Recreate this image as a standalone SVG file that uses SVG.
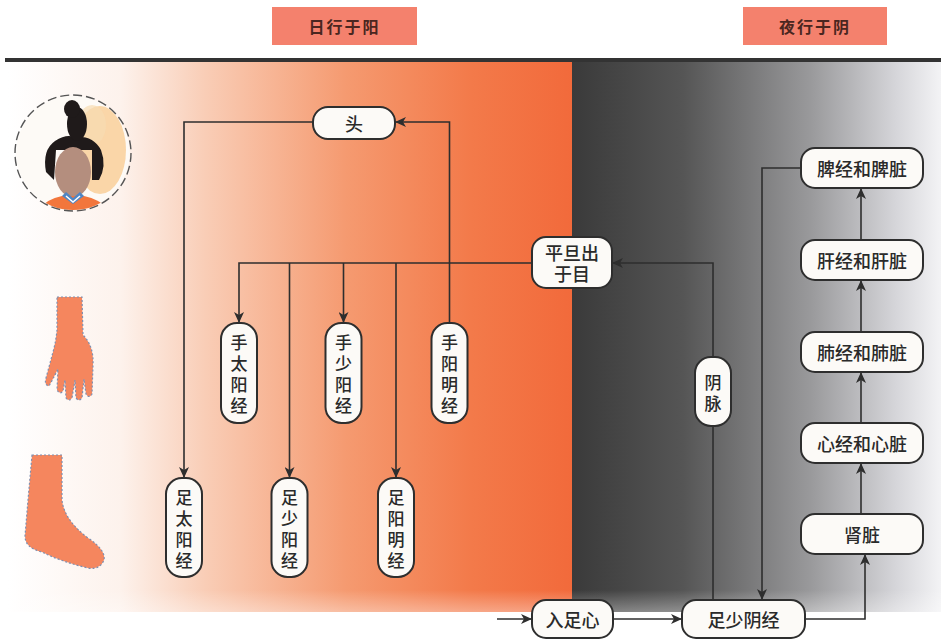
<svg xmlns="http://www.w3.org/2000/svg" width="941" height="640" viewBox="0 0 941 640">
  <defs>
    <style>
      .box rect { fill: #fcfaf7; stroke: #2e2e2e; stroke-width: 2; }
      .box text { font-family: "Noto Sans CJK SC", "Noto Sans", sans-serif; font-size: 18px; font-weight: 500; fill: #2a2a2a; text-anchor: middle; dominant-baseline: central; }
      .box text.v { font-size: 17px; }
      .hdr rect { fill: #f4816d; }
      .hdr text { font-family: "Noto Sans CJK SC", serif; font-size: 16px; font-weight: 700; fill: #4a2620; text-anchor: middle; dominant-baseline: central; letter-spacing: 2px; }
      .link { fill: none; stroke: #2e2e2e; stroke-width: 1.6; }
      .arrow { marker-end: url(#tip); }
      .skin { fill: #f5865e; stroke: #7f8fb0; stroke-width: 1.2; stroke-dasharray: 2 2; }
    </style>
    <marker id="tip" markerUnits="userSpaceOnUse" markerWidth="12" markerHeight="10" refX="11" refY="5" orient="auto">
      <path d="M0,0 L11,5 L0,10 L3,5 Z" fill="#2e2e2e"/>
    </marker>
    <linearGradient id="day" x1="8" y1="0" x2="572" y2="0" gradientUnits="userSpaceOnUse">
      <stop offset="0" stop-color="#ffffff"/>
      <stop offset="0.2" stop-color="#fdf2ec"/>
      <stop offset="0.35" stop-color="#f9cdb6"/>
      <stop offset="0.6" stop-color="#f59a70"/>
      <stop offset="0.82" stop-color="#f37a4a"/>
      <stop offset="1" stop-color="#f26a3b"/>
    </linearGradient>
    <linearGradient id="night" x1="572" y1="0" x2="941" y2="0" gradientUnits="userSpaceOnUse">
      <stop offset="0" stop-color="#3a3a3a"/>
      <stop offset="0.3" stop-color="#555555"/>
      <stop offset="0.65" stop-color="#9a9a9c"/>
      <stop offset="0.88" stop-color="#d6d6da"/>
      <stop offset="1" stop-color="#f3f3f5"/>
    </linearGradient>
    <linearGradient id="fadeDown" x1="0" y1="590" x2="0" y2="612" gradientUnits="userSpaceOnUse">
      <stop offset="0" stop-color="#ffffff" stop-opacity="0"/>
      <stop offset="1" stop-color="#ffffff" stop-opacity="0.35"/>
    </linearGradient>
    <clipPath id="faceClip">
      <circle cx="73" cy="153" r="57"/>
    </clipPath>
  </defs>

  <!-- page -->
  <rect x="0" y="0" width="941" height="640" fill="#ffffff"/>

  <!-- day / night bands -->
  <rect x="8" y="62" width="564" height="550" fill="url(#day)"/>
  <rect x="572" y="62" width="369" height="550" fill="url(#night)"/>
  <rect x="8" y="590" width="933" height="22" fill="url(#fadeDown)"/>

  <!-- header rule -->
  <line x1="5" y1="60" x2="941" y2="60" stroke="#333333" stroke-width="4"/>

  <!-- header labels -->
  <g id="label-day" class="hdr">
    <rect x="272" y="7" width="145" height="38"/>
    <text x="344.5" y="26">日行于阳</text>
  </g>
  <g id="label-night" class="hdr">
    <rect x="743" y="7" width="144" height="38"/>
    <text x="815" y="26">夜行于阴</text>
  </g>

  <!-- figure: head portrait -->
  <g id="icon-head">
    <g clip-path="url(#faceClip)">
      <circle cx="73" cy="153" r="57" fill="#fdfaf6"/>
      <ellipse cx="100" cy="150" rx="26" ry="44" fill="#f8c98e" opacity="0.75"/>
      <ellipse cx="92" cy="125" rx="14" ry="20" fill="#f6dcb2" opacity="0.7"/>
      <path d="M46,172 Q42,150 55,141 Q66,134 74,137 Q93,135 101,150 Q107,166 99,180 L92,180 L92,150 L56,150 L54,180 Z" fill="#1f1a1a"/>
      <ellipse cx="77" cy="124" rx="10" ry="17" fill="#1f1a1a"/>
      <ellipse cx="72" cy="109" rx="8" ry="9" fill="#1f1a1a"/>
      <ellipse cx="73" cy="172" rx="18" ry="25" fill="#b48e7e"/>
      <path d="M36,215 Q42,200 62,196 L84,196 Q104,200 112,215 Z" fill="#f2763c"/>
      <path d="M62,196 L73,204 L84,196 L80,192 L73,198 L66,192 Z" fill="#4f86c4"/>
      <path d="M66,196 L73,202 L80,196" fill="none" stroke="#ffffff" stroke-width="1.5"/>
    </g>
    <circle cx="73" cy="153" r="58" fill="none" stroke="#555555" stroke-width="1.4" stroke-dasharray="9 4"/>
  </g>

  <!-- figure: hand -->
  <g id="icon-hand">
    <path class="skin" d="M57,297 L82,297 L83,335 Q94,346 93,365 L92,394 Q89,399 86,394 L84,379 L82,398 Q79,402 76,398 L75,380 L72,398 Q69,402 66,398 L65,380 L63,391 Q60,395 57,390 L58,369 Q53,379 49,386 Q44,385 46,378 L53,352 Q56,341 57,330 Z"/>
  </g>

  <!-- figure: foot -->
  <g id="icon-foot">
    <path class="skin" d="M32,455 L62,455 L62,500 Q64,520 88,538 Q106,550 104,560 Q100,570 88,568 Q62,562 42,552 Q25,548 25,536 L28,500 Z"/>
  </g>

  <!-- connectors -->
  <g id="connectors">
    <path class="link arrow" d="M313,122 H184 V478"/>
    <path class="link arrow" d="M449.5,323 V122 H395"/>
    <path class="link arrow" d="M532,263 H239 V323"/>
    <path class="link arrow" d="M289.5,263 V478"/>
    <path class="link arrow" d="M343.5,263 V323"/>
    <path class="link arrow" d="M396,263 V478"/>
    <path class="link arrow" d="M713,600 V263 H612"/>
    <path class="link arrow" d="M497,619 H532"/>
    <path class="link arrow" d="M613,619 H682"/>
    <path class="link arrow" d="M805,619 H865 V554"/>
    <path class="link arrow" d="M861,514 V463"/>
    <path class="link arrow" d="M861,423 V372"/>
    <path class="link arrow" d="M861,332 V280"/>
    <path class="link arrow" d="M861,240 V188"/>
    <path class="link arrow" d="M801,168 H762 V600"/>
  </g>

  <!-- yang meridians -->
  <g id="node-head" class="box">
    <rect x="313" y="107" width="82" height="32" rx="15"/>
    <text x="354" y="123">头</text>
  </g>
  <g id="node-hand-taiyang" class="box">
    <rect x="221" y="323" width="36" height="100" rx="16"/>
    <text class="v" x="239" y="341.5">手</text>
    <text class="v" x="239" y="362.5">太</text>
    <text class="v" x="239" y="383.5">阳</text>
    <text class="v" x="239" y="404.5">经</text>
  </g>
  <g id="node-hand-shaoyang" class="box">
    <rect x="325.5" y="323" width="36" height="100" rx="16"/>
    <text class="v" x="343.5" y="341.5">手</text>
    <text class="v" x="343.5" y="362.5">少</text>
    <text class="v" x="343.5" y="383.5">阳</text>
    <text class="v" x="343.5" y="404.5">经</text>
  </g>
  <g id="node-hand-yangming" class="box">
    <rect x="431.5" y="323" width="36" height="100" rx="16"/>
    <text class="v" x="449.5" y="341.5">手</text>
    <text class="v" x="449.5" y="362.5">阳</text>
    <text class="v" x="449.5" y="383.5">明</text>
    <text class="v" x="449.5" y="404.5">经</text>
  </g>
  <g id="node-foot-taiyang" class="box">
    <rect x="166" y="478" width="36" height="99" rx="16"/>
    <text class="v" x="184" y="496">足</text>
    <text class="v" x="184" y="517">太</text>
    <text class="v" x="184" y="538">阳</text>
    <text class="v" x="184" y="559">经</text>
  </g>
  <g id="node-foot-shaoyang" class="box">
    <rect x="271.5" y="478" width="36" height="99" rx="16"/>
    <text class="v" x="289.5" y="496">足</text>
    <text class="v" x="289.5" y="517">少</text>
    <text class="v" x="289.5" y="538">阳</text>
    <text class="v" x="289.5" y="559">经</text>
  </g>
  <g id="node-foot-yangming" class="box">
    <rect x="378" y="478" width="36" height="99" rx="16"/>
    <text class="v" x="396" y="496">足</text>
    <text class="v" x="396" y="517">阳</text>
    <text class="v" x="396" y="538">明</text>
    <text class="v" x="396" y="559">经</text>
  </g>

  <!-- dawn / yin path -->
  <g id="node-dawn" class="box">
    <rect x="532" y="237" width="80" height="51" rx="14"/>
    <text x="572" y="252">平旦出</text>
    <text x="572" y="273">于目</text>
  </g>
  <g id="node-yinmai" class="box">
    <rect x="695" y="357" width="36" height="69" rx="16"/>
    <text class="v" x="713" y="381">阴</text>
    <text class="v" x="713" y="402">脉</text>
  </g>
  <g id="node-sole" class="box">
    <rect x="532" y="600" width="81" height="38" rx="14"/>
    <text x="572.5" y="619">入足心</text>
  </g>
  <g id="node-foot-shaoyin" class="box">
    <rect x="682" y="600" width="123" height="38" rx="14"/>
    <text x="743.5" y="619">足少阴经</text>
  </g>

  <!-- organs -->
  <g id="node-kidney" class="box">
    <rect x="801" y="514" width="122" height="40" rx="14"/>
    <text x="862" y="534">肾脏</text>
  </g>
  <g id="node-heart" class="box">
    <rect x="801" y="423" width="122" height="40" rx="14"/>
    <text x="862" y="443">心经和心脏</text>
  </g>
  <g id="node-lung" class="box">
    <rect x="801" y="332" width="122" height="40" rx="14"/>
    <text x="862" y="352">肺经和肺脏</text>
  </g>
  <g id="node-liver" class="box">
    <rect x="801" y="240" width="122" height="40" rx="14"/>
    <text x="862" y="260">肝经和肝脏</text>
  </g>
  <g id="node-spleen" class="box">
    <rect x="801" y="148" width="122" height="40" rx="14"/>
    <text x="862" y="168">脾经和脾脏</text>
  </g>
</svg>
